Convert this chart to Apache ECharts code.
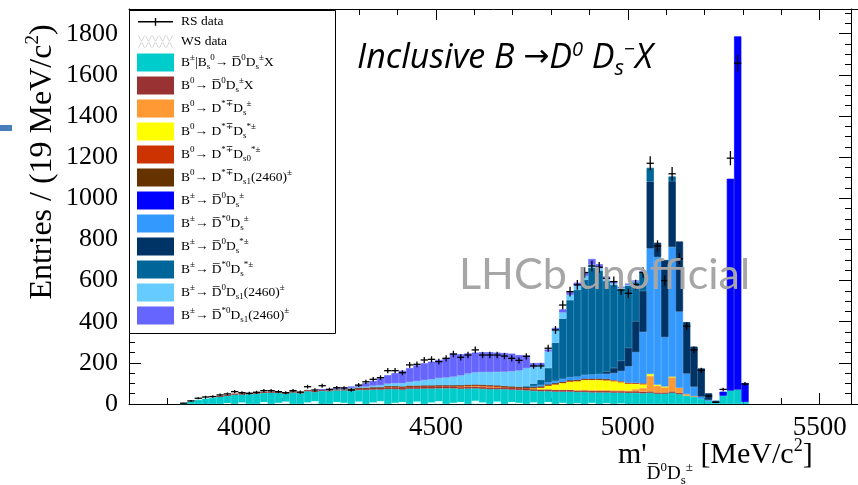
<!DOCTYPE html>
<html>
<head>
<meta charset="utf-8">
<script src="https://cdn.jsdelivr.net/npm/echarts@6/dist/echarts.min.js"></script>
<style>
  html, body { margin: 0; padding: 0; background: #fff; }
  #main { width: 858px; height: 485px; }
</style>
</head>
<body>
<div id="main"></div>
<script>
// 100 bins of 19 MeV from 3700 to 5600
const binStart = 3700;
const binWidth = 19;
const bins = Array.from({ length: 100 }, (_, i) => String(binStart + binWidth * i + binWidth / 2));

const xMajorTicks = [4000, 4500, 5000, 5500];

// RS data (entries per bin)
const rsData = [
  0, 0, 0, 0, 0, 0, 0, 4, 15, 28,
  34, 36, 44, 49, 60, 55, 52, 57, 65, 65,
  60, 55, 65, 58, 84, 68, 89, 71, 79, 78,
  68, 92, 108, 120, 128, 162, 162, 152, 190, 193,
  214, 217, 206, 222, 243, 227, 238, 263, 238, 238,
  238, 233, 222, 212, 232, 185, 185, 271, 360, 481,
  546, 579, 639, 671, 665, 611, 595, 554, 538, 580,
  639, 1170, 768, 600, 1119, 706, 378, 263, 164, 39,
  8, 71, 1195, 1657, 97, 0, 0, 0, 0, 0,
  0, 0, 0, 0, 0, 0, 0, 0, 0, 0
];

// WS data (hatched)
const wsData = [
  0, 0, 0, 0, 0, 0, 0, 0, 0, 0,
  0, 0, 0, 5, 0, 8, 0, 0, 10, 0,
  6, 12, 0, 0, 8, 14, 0, 0, 10, 6,
  0, 12, 0, 8, 14, 0, 6, 10, 0, 12,
  0, 8, 14, 0, 6, 10, 0, 16, 8, 0,
  12, 0, 10, 6, 0, 8, 0, 10, 0, 6,
  0, 4, 0, 6, 0, 4, 0, 3, 0, 0,
  0, 0, 0, 0, 0, 0, 0, 0, 0, 0,
  0, 0, 0, 0, 0, 0, 0, 0, 0, 0,
  0, 0, 0, 0, 0, 0, 0, 0, 0, 0
];

// simulated components, bottom of stack first
const bsD0DsX = [
  0, 0, 0, 0, 0, 0, 0, 3, 12, 20,
  26, 30, 36, 40, 46, 46, 48, 50, 54, 55,
  54, 50, 56, 52, 62, 58, 64, 62, 66, 66,
  64, 68, 68, 70, 70, 72, 72, 70, 74, 74,
  75, 75, 76, 76, 76, 74, 75, 76, 74, 72,
  72, 72, 70, 68, 66, 64, 62, 62, 60, 60,
  60, 58, 58, 56, 56, 56, 55, 55, 54, 54,
  52, 55, 50, 50, 55, 48, 40, 35, 25, 15,
  8, 40, 65, 70, 10, 0, 0, 0, 0, 0,
  0, 0, 0, 0, 0, 0, 0, 0, 0, 0
];
const b0D0DsX = [
  0, 0, 0, 0, 0, 0, 0, 0, 0, 0,
  0, 0, 2, 3, 4, 6, 6, 6, 6, 6,
  6, 6, 6, 6, 6, 6, 6, 6, 6, 6,
  9, 9, 9, 9, 9, 9, 9, 9, 9, 9,
  9, 9, 9, 9, 9, 9, 9, 9, 9, 9,
  9, 9, 9, 9, 9, 9, 9, 9, 9, 9,
  9, 8, 8, 8, 8, 8, 8, 8, 8, 8,
  8, 6, 6, 6, 6, 6, 0, 0, 0, 0,
  0, 0, 0, 0, 0, 0, 0, 0, 0, 0,
  0, 0, 0, 0, 0, 0, 0, 0, 0, 0
];
const b0DstDs = [
  0, 0, 0, 0, 0, 0, 0, 0, 0, 0,
  0, 0, 0, 0, 0, 0, 0, 0, 0, 0,
  0, 0, 0, 0, 0, 0, 0, 0, 0, 0,
  0, 0, 0, 0, 0, 0, 0, 0, 0, 0,
  0, 0, 0, 0, 0, 2, 3, 3, 4, 4,
  3, 0, 0, 0, 0, 0, 0, 0, 0, 0,
  0, 0, 3, 3, 3, 3, 3, 3, 3, 10,
  18, 75, 32, 25, 70, 25, 8, 3, 0, 0,
  0, 0, 0, 0, 0, 0, 0, 0, 0, 0,
  0, 0, 0, 0, 0, 0, 0, 0, 0, 0
];
const b0DstDsst = [
  0, 0, 0, 0, 0, 0, 0, 0, 0, 0,
  0, 0, 0, 0, 0, 0, 0, 0, 0, 0,
  0, 0, 0, 0, 0, 0, 0, 0, 0, 0,
  0, 0, 0, 0, 0, 0, 0, 0, 0, 0,
  0, 0, 0, 0, 0, 0, 0, 0, 0, 0,
  0, 0, 0, 0, 0, 3, 8, 18, 26, 33,
  40, 45, 48, 50, 50, 48, 45, 40, 34, 26,
  18, 10, 6, 4, 2, 0, 0, 0, 0, 0,
  0, 0, 0, 0, 0, 0, 0, 0, 0, 0,
  0, 0, 0, 0, 0, 0, 0, 0, 0, 0
];
const b0DstDs0 = [
  0, 0, 0, 0, 0, 0, 0, 0, 0, 0,
  0, 0, 0, 0, 0, 0, 0, 0, 0, 0,
  0, 0, 0, 0, 0, 0, 0, 0, 0, 0,
  0, 0, 0, 0, 0, 4, 4, 4, 4, 4,
  4, 4, 4, 4, 4, 4, 4, 4, 4, 4,
  4, 4, 4, 4, 4, 4, 4, 4, 4, 4,
  4, 4, 4, 4, 4, 4, 4, 4, 4, 4,
  4, 0, 0, 0, 0, 0, 0, 0, 0, 0,
  0, 0, 0, 0, 0, 0, 0, 0, 0, 0,
  0, 0, 0, 0, 0, 0, 0, 0, 0, 0
];
const b0DstDs1 = [
  0, 0, 0, 0, 0, 0, 0, 0, 0, 0,
  0, 0, 0, 0, 0, 0, 0, 0, 0, 0,
  0, 0, 0, 0, 0, 0, 0, 0, 0, 0,
  2, 2, 2, 2, 2, 2, 2, 2, 2, 2,
  2, 2, 2, 2, 2, 2, 2, 2, 2, 2,
  2, 2, 2, 2, 2, 2, 2, 2, 2, 2,
  2, 2, 2, 2, 2, 2, 0, 0, 0, 0,
  0, 0, 0, 0, 0, 0, 0, 0, 0, 0,
  0, 0, 0, 0, 0, 0, 0, 0, 0, 0,
  0, 0, 0, 0, 0, 0, 0, 0, 0, 0
];
const bpD0Ds = [
  0, 0, 0, 0, 0, 0, 0, 0, 0, 0,
  0, 0, 0, 0, 0, 0, 0, 0, 0, 0,
  0, 0, 0, 0, 0, 0, 0, 0, 0, 0,
  0, 0, 0, 0, 0, 0, 0, 0, 0, 0,
  0, 0, 0, 0, 0, 0, 0, 0, 0, 0,
  0, 0, 0, 0, 0, 0, 0, 0, 0, 0,
  0, 0, 0, 0, 0, 0, 0, 0, 0, 0,
  0, 0, 0, 0, 0, 0, 0, 0, 0, 0,
  3, 20, 1030, 1717, 92, 0, 0, 0, 0, 0,
  0, 0, 0, 0, 0, 0, 0, 0, 0, 0
];
const bpD0stDs = [
  0, 0, 0, 0, 0, 0, 0, 0, 0, 0,
  0, 0, 0, 0, 0, 0, 0, 0, 0, 0,
  0, 0, 0, 0, 0, 0, 0, 0, 0, 0,
  0, 0, 0, 0, 0, 0, 0, 0, 0, 0,
  0, 0, 0, 0, 0, 0, 0, 0, 0, 0,
  0, 0, 0, 0, 0, 5, 8, 10, 12, 14,
  15, 16, 18, 20, 22, 26, 35, 50, 80, 150,
  250, 610, 620, 240, 630, 370, 100, 46, 11, 5,
  0, 0, 0, 0, 0, 0, 0, 0, 0, 0,
  0, 0, 0, 0, 0, 0, 0, 0, 0, 0
];
const bpD0Dsst = [
  0, 0, 0, 0, 0, 0, 0, 0, 0, 0,
  0, 0, 0, 0, 0, 0, 0, 0, 0, 0,
  0, 0, 0, 0, 0, 0, 0, 0, 0, 0,
  0, 0, 0, 0, 0, 0, 0, 0, 0, 0,
  0, 0, 0, 0, 0, 0, 0, 0, 0, 0,
  0, 0, 0, 0, 0, 0, 0, 0, 0, 0,
  0, 0, 0, 0, 0, 10, 25, 50, 90, 150,
  200, 325, 70, 375, 320, 341, 250, 195, 137, 32,
  5, 0, 0, 0, 0, 0, 0, 0, 0, 0,
  0, 0, 0, 0, 0, 0, 0, 0, 0, 0
];
const bpD0stDsst = [
  0, 0, 0, 0, 0, 0, 0, 0, 0, 0,
  0, 0, 0, 0, 0, 0, 0, 0, 0, 0,
  0, 0, 0, 0, 0, 0, 0, 0, 0, 0,
  0, 0, 0, 0, 0, 0, 0, 0, 0, 0,
  0, 0, 0, 0, 0, 0, 0, 0, 0, 0,
  0, 0, 0, 0, 5, 12, 25, 70, 185, 293,
  375, 422, 463, 519, 503, 441, 404, 348, 302, 190,
  89, 67, 0, 0, 23, 0, 0, 0, 0, 0,
  0, 0, 0, 0, 0, 0, 0, 0, 0, 0,
  0, 0, 0, 0, 0, 0, 0, 0, 0, 0
];
const bpD0Ds1 = [
  0, 0, 0, 0, 0, 0, 0, 0, 0, 0,
  0, 0, 0, 0, 0, 0, 0, 0, 0, 0,
  0, 0, 0, 0, 0, 0, 0, 2, 3, 4,
  4, 5, 6, 8, 10, 12, 14, 16, 18, 22,
  26, 30, 35, 38, 42, 48, 55, 60, 62, 64,
  66, 70, 74, 80, 88, 80, 70, 80, 60, 30,
  25, 20, 18, 15, 12, 10, 8, 6, 5, 4,
  3, 0, 0, 0, 0, 0, 0, 0, 0, 0,
  0, 0, 0, 0, 0, 0, 0, 0, 0, 0,
  0, 0, 0, 0, 0, 0, 0, 0, 0, 0
];
const bpD0stDs1 = [
  0, 0, 0, 0, 0, 0, 0, 0, 0, 0,
  0, 0, 0, 0, 0, 0, 0, 0, 0, 0,
  0, 0, 0, 0, 0, 0, 1, 2, 3, 4,
  6, 8, 17, 23, 34, 41, 49, 61, 68, 77,
  82, 86, 88, 95, 112, 103, 98, 96, 97, 97,
  94, 91, 86, 75, 62, 20, 12, 10, 12, 15,
  15, 15, 18, 28, 20, 12, 8, 6, 5, 4,
  3, 0, 0, 0, 0, 0, 0, 0, 0, 0,
  0, 0, 0, 0, 0, 0, 0, 0, 0, 0,
  0, 0, 0, 0, 0, 0, 0, 0, 0, 0
];

const components = [
  { name: 'B±|Bs0 → D0bar Ds± X', data: bsD0DsX, color: '#00cccc',
    label: '{n|B}{p|±}{n||B}{b|s}{p|0}{n|→ D\u0305}{p|0}{n|D}{b|s}{p|±}{n|X}' },
  { name: 'B0 → D0bar Ds± X', data: b0D0DsX, color: '#993333',
    label: '{n|B}{p|0}{n|→ D\u0305}{p|0}{n|D}{b|s}{p|±}{n|X}' },
  { name: 'B0 → D*∓ Ds±', data: b0DstDs, color: '#ff9933',
    label: '{n|B}{p|0}{n|→ D}{p|*∓}{n|D}{b|s}{p|±}' },
  { name: 'B0 → D*∓ Ds*±', data: b0DstDsst, color: '#ffff00',
    label: '{n|B}{p|0}{n|→ D}{p|*∓}{n|D}{b|s}{p|*±}' },
  { name: 'B0 → D*∓ Ds0*±', data: b0DstDs0, color: '#cc3300',
    label: '{n|B}{p|0}{n|→ D}{p|*∓}{n|D}{b|s0}{p|*±}' },
  { name: 'B0 → D*∓ Ds1(2460)±', data: b0DstDs1, color: '#663300',
    label: '{n|B}{p|0}{n|→ D}{p|*∓}{n|D}{b|s1}{n|(2460)}{p|±}' },
  { name: 'B± → D0bar Ds±', data: bpD0Ds, color: '#0000ff',
    label: '{n|B}{p|±}{n|→ D\u0305}{p|0}{n|D}{b|s}{p|±}' },
  { name: 'B± → D*0bar Ds±', data: bpD0stDs, color: '#3399ff',
    label: '{n|B}{p|±}{n|→ D\u0305}{p|*0}{n|D}{b|s}{p|±}' },
  { name: 'B± → D0bar Ds*±', data: bpD0Dsst, color: '#003366',
    label: '{n|B}{p|±}{n|→ D\u0305}{p|0}{n|D}{b|s}{p|*±}' },
  { name: 'B± → D*0bar Ds*±', data: bpD0stDsst, color: '#006699',
    label: '{n|B}{p|±}{n|→ D\u0305}{p|*0}{n|D}{b|s}{p|*±}' },
  { name: 'B± → D0bar Ds1(2460)±', data: bpD0Ds1, color: '#66ccff',
    label: '{n|B}{p|±}{n|→ D\u0305}{p|0}{n|D}{b|s1}{n|(2460)}{p|±}' },
  { name: 'B± → D*0bar Ds1(2460)±', data: bpD0stDs1, color: '#6666ff',
    label: '{n|B}{p|±}{n|→ D\u0305}{p|*0}{n|D}{b|s1}{n|(2460)}{p|±}' }
];

const SERIF = "'Liberation Serif', 'DejaVu Serif', serif";
const SANS = "Lato, 'Open Sans', sans-serif";
const OPEN = "'Open Sans', 'Noto Sans', sans-serif";

const legendLabels = { 'RS data': '{n|RS data}', 'WS data': '{n|WS data}' };
components.forEach(c => { legendLabels[c.name] = c.label; });

// hatch icon for the WS entry
let hatch = '';
for (let k = 0; k < 5; k++) {
  const x = k * 8;
  hatch += `M${x},0L${x + 1.2},0L${x + 8},14L${x + 6.8},14Z` +
           `M${x + 8},0L${x + 6.8},0L${x},14L${x + 1.2},14Z`;
}
const crossIcon = 'path://M0,0L0.01,0L0,0.01ZM0,16L0.01,16L0,15.99ZM0,7.3h36v1.4h-36zM17.3,4h1.4v8h-1.4z';

function renderPoint(params, api) {
  const i = api.value(0);
  const n = api.value(1);
  const c = api.coord([i, n]);
  const half = api.size([1, 0])[0] / 2;
  const e = Math.sqrt(n);
  const top = api.coord([i, n + e])[1];
  const bot = api.coord([i, Math.max(n - e, 0)])[1];
  const st = { stroke: '#000', lineWidth: 1.3 };
  return {
    type: 'group',
    children: [
      { type: 'line', shape: { x1: c[0] - half, y1: c[1], x2: c[0] + half, y2: c[1] }, style: st },
      { type: 'line', shape: { x1: c[0], y1: top, x2: c[0], y2: bot }, style: st }
    ]
  };
}

var chartDom = document.getElementById('main');
var myChart = echarts.init(chartDom, null, { renderer: 'canvas' });

const tickLine = { color: '#000', width: 1 };
const plainNumber = v => String(v);
// empty bins are left out so that no outline is drawn for them
const skipEmpty = arr => arr.map(v => (v > 0 ? v : '-'));

const barSeries = components.map(c => ({
  name: c.name,
  type: 'bar',
  stack: 'mc',
  xAxisIndex: 0,
  yAxisIndex: 0,
  barCategoryGap: '0%',
  barGap: '-100%',
  itemStyle: { color: c.color, borderColor: c.color, borderWidth: 0.7 },
  emphasis: { disabled: true },
  data: skipEmpty(c.data)
}));

const option = {
  animation: false,
  backgroundColor: '#fff',
  grid: { left: 129, right: -6, top: 9, bottom: 81 },
  legend: {
    orient: 'vertical',
    left: 137,
    top: 14,
    itemWidth: 35,
    itemHeight: 16,
    itemGap: 5,
    padding: 0,
    selectedMode: false,
    z: 6,
    data: [
      { name: 'RS data', icon: crossIcon, itemStyle: { color: '#000' } },
      { name: 'WS data', icon: 'path://' + hatch, itemStyle: { color: '#d8d8d8' } }
    ].concat(components.map(c => ({ name: c.name, icon: 'rect' }))),
    formatter: name => legendLabels[name],
    textStyle: {
      padding: [0, 0, 0, 3],
      rich: {
        n: { fontFamily: SERIF, fontSize: 13.5, color: '#000', lineHeight: 18 },
        p: { fontFamily: SERIF, fontSize: 9, color: '#000', lineHeight: 18, padding: [0, 0, 9, 0] },
        b: { fontFamily: SERIF, fontSize: 9, color: '#000', lineHeight: 18, padding: [9, 0, 0, 0] }
      }
    }
  },
  xAxis: [
    { type: 'category', data: bins, show: false, boundaryGap: true, gridIndex: 0 },
    {
      type: 'value', position: 'bottom', min: 3700, max: 5600,
      axisLine: { show: true, lineStyle: tickLine },
      axisTick: { show: true, inside: true, length: 11, lineStyle: tickLine, customValues: xMajorTicks },
      axisLabel: { show: true, customValues: xMajorTicks, formatter: plainNumber,
        fontFamily: SERIF, fontSize: 27, color: '#000', margin: 10 },
      splitLine: { show: false }
    },
    {
      type: 'value', position: 'bottom', min: 3700, max: 5600, interval: 100,
      axisLine: { show: false },
      axisTick: { show: true, inside: true, length: 6, lineStyle: tickLine },
      axisLabel: { show: false },
      splitLine: { show: false }
    },
    {
      type: 'value', position: 'top', min: 3700, max: 5600,
      axisLine: { show: true, lineStyle: tickLine },
      axisTick: { show: true, inside: true, length: 11, lineStyle: tickLine, customValues: xMajorTicks },
      axisLabel: { show: false },
      splitLine: { show: false }
    },
    {
      type: 'value', position: 'top', min: 3700, max: 5600, interval: 100,
      axisLine: { show: false },
      axisTick: { show: true, inside: true, length: 6, lineStyle: tickLine },
      axisLabel: { show: false },
      splitLine: { show: false }
    }
  ],
  yAxis: [
    {
      type: 'value', position: 'left', min: 0, max: 1920, interval: 200,
      axisLine: { show: true, lineStyle: tickLine },
      axisTick: { show: true, inside: true, length: 12, lineStyle: tickLine },
      minorTick: { show: true, splitNumber: 4, length: 6, lineStyle: tickLine },
      axisLabel: { formatter: plainNumber, fontFamily: SERIF, fontSize: 26, color: '#000',
        margin: 11, showMaxLabel: false },
      splitLine: { show: false }
    },
    {
      type: 'value', position: 'right', offset: -7, min: 0, max: 1920, interval: 200,
      axisLine: { show: true, lineStyle: tickLine },
      axisTick: { show: true, inside: true, length: 12, lineStyle: tickLine },
      minorTick: { show: true, splitNumber: 4, length: 6, lineStyle: tickLine },
      axisLabel: { show: false },
      splitLine: { show: false }
    }
  ],
  graphic: [
    // legend frame
    { type: 'rect', z: 1, shape: { x: 129.5, y: 10.5, width: 206, height: 323 },
      style: { fill: '#fff', stroke: '#000', lineWidth: 1 } },
    // stray slide mark at the left edge
    { type: 'rect', z: 1, shape: { x: 0, y: 125, width: 12, height: 6 }, style: { fill: '#4a7ebb' } },
    {
      type: 'text', z: 20, x: 43, y: 162, rotation: Math.PI / 2,
      style: {
        text: '{n|Entries / (19 MeV/c}{p|2}{n|)}',
        align: 'center', verticalAlign: 'middle',
        rich: {
          n: { fontFamily: SERIF, fontSize: 32, fill: '#000', lineHeight: 36 },
          p: { fontFamily: SERIF, fontSize: 19, fill: '#000', lineHeight: 36, padding: [0, 0, 20, 0] }
        }
      }
    },
    {
      type: 'text', z: 20, x: 618, y: 455,
      style: {
        text: "{n|m'}{d|D\u0305}{q|0}{d|D}{s|s}{q|±}{n| [MeV/c}{t|2}{n|]}",
        align: 'left', verticalAlign: 'middle',
        rich: {
          n: { fontFamily: SERIF, fontSize: 30, fill: '#000', lineHeight: 32 },
          d: { fontFamily: SERIF, fontSize: 19, fill: '#000', lineHeight: 32, padding: [38, 0, 0, 0] },
          q: { fontFamily: SERIF, fontSize: 13, fill: '#000', lineHeight: 32, padding: [26, 0, 0, 0] },
          s: { fontFamily: SERIF, fontSize: 13, fill: '#000', lineHeight: 32, padding: [52, 0, 0, 0] },
          t: { fontFamily: SERIF, fontSize: 18, fill: '#000', lineHeight: 32, padding: [0, 0, 18, 0] }
        }
      }
    },
    {
      type: 'text', z: 20, x: 357, y: 58,
      style: {
        text: '{n|Inclusive B }{a|→}{n|D}{p|0}{n| D}{b|s}{p|−}{n|X}',
        align: 'left', verticalAlign: 'middle',
        rich: {
          n: { fontFamily: OPEN, fontStyle: 'italic', fontSize: 34, fill: '#000', lineHeight: 38 },
          a: { fontFamily: "'DejaVu Sans', sans-serif", fontSize: 31, fill: '#000', lineHeight: 38 },
          p: { fontFamily: OPEN, fontStyle: 'italic', fontSize: 20, fill: '#000', lineHeight: 38, padding: [0, 0, 15, 0] },
          b: { fontFamily: OPEN, fontStyle: 'italic', fontSize: 22, fill: '#000', lineHeight: 38, padding: [22, 0, 0, 0] }
        }
      }
    },
    {
      type: 'text', z: 20, x: 459, y: 275,
      style: {
        text: 'LHCb unofficial',
        fontFamily: SANS, fontSize: 43, fill: '#a6a6a6',
        align: 'left', verticalAlign: 'middle'
      }
    }
  ],
  series: barSeries.concat([
    {
      name: 'WS data',
      type: 'bar',
      xAxisIndex: 0,
      yAxisIndex: 0,
      barCategoryGap: '0%',
      barGap: '-100%',
      itemStyle: { color: 'rgba(255,255,255,0.9)' },
      emphasis: { disabled: true },
      data: skipEmpty(wsData)
    },
    {
      name: 'RS data',
      type: 'custom',
      xAxisIndex: 0,
      yAxisIndex: 0,
      z: 5,
      itemStyle: { color: '#000' },
      renderItem: renderPoint,
      data: rsData.map((v, i) => [i, v]).filter(d => d[1] > 0)
    }
  ])
};

option && myChart.setOption(option);
</script>
</body>
</html>
